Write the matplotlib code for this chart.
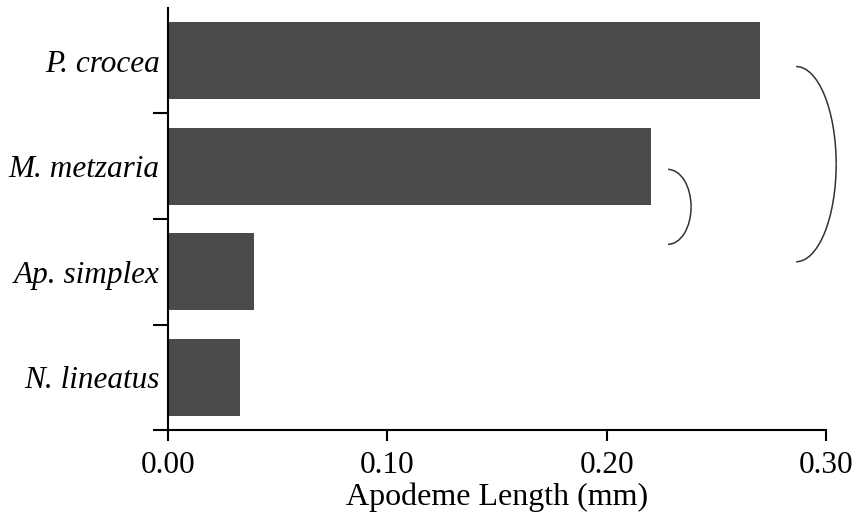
import matplotlib
matplotlib.use("Agg")
import matplotlib.pyplot as plt
from matplotlib.patches import Arc
from matplotlib.ticker import FixedLocator

# data
species = ["P. crocea", "M. metzaria", "Ap. simplex", "N. lineatus"]
apodeme_length = [0.270, 0.220, 0.039, 0.033]
xticks = [0.00, 0.10, 0.20, 0.30]
xtick_labels = ["0.00", "0.10", "0.20", "0.30"]

plt.rcParams["font.family"] = ["Liberation Serif", "DejaVu Serif"]

fig = plt.figure(figsize=(8.62, 5.15), dpi=100)
ax = fig.add_axes([0.1949, 0.165, 0.7633, 0.8195])

pos = list(range(len(species)))
ax.barh(pos, apodeme_length, height=0.73, color="#4a4a4a")

ax.set_xlim(0, 0.30)
ax.set_ylim(3.5, -0.5)

ax.set_xticks(xticks)
ax.set_xticklabels(xtick_labels, fontsize=22.5)
ax.set_yticks(pos)
ax.set_yticklabels(species, fontsize=22.5, style="italic")
ax.tick_params(axis="y", which="major", length=0, pad=6)
ax.yaxis.set_minor_locator(FixedLocator([0.5, 1.5, 2.5, 3.5]))
ax.tick_params(axis="y", which="minor", length=11, width=1.5, direction="out")
ax.tick_params(axis="x", length=8, width=1.5, direction="out", pad=7)

ax.set_xlabel("Apodeme Length (mm)", fontsize=23, labelpad=2)

for s in ["top", "right"]:
    ax.spines[s].set_visible(False)
for s in ["left", "bottom"]:
    ax.spines[s].set_linewidth(1.5)

# significance brackets (parenthesis-like arcs)
for xc, yc, w, h in [(0.228, 1.385, 0.021, 0.71), (0.2864, 0.98, 0.0365, 1.85)]:
    for t1, t2 in [(-90, -1.5), (1.5, 90)]:
        ax.add_patch(Arc((xc, yc), w, h, theta1=t1, theta2=t2,
                         color="#333333", lw=1.1, clip_on=False))

fig.savefig("out.png", dpi=100)
